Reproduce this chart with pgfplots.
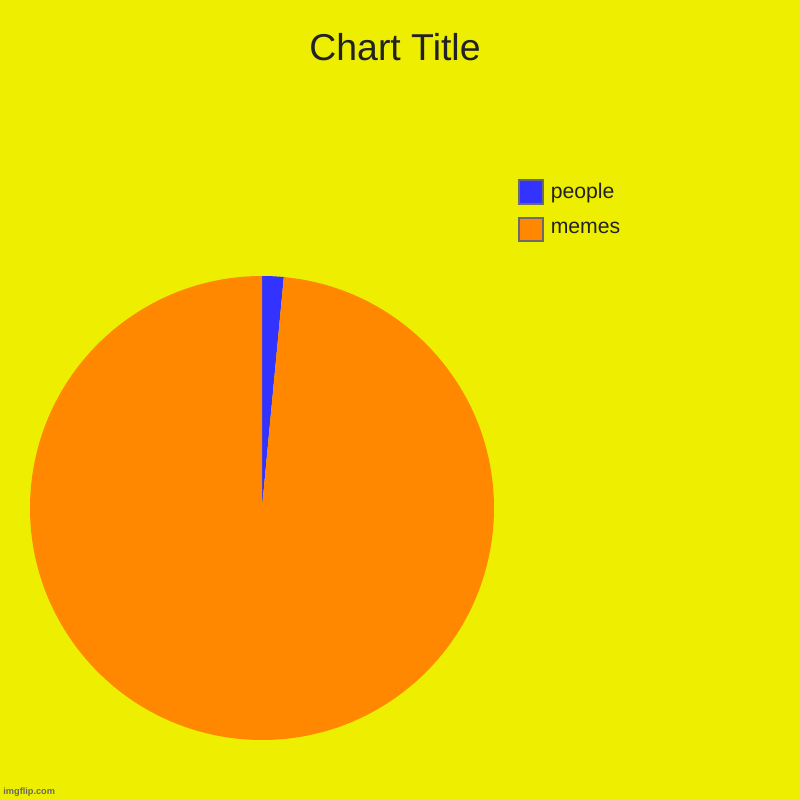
\documentclass[border=0pt]{standalone}
\usepackage{fontspec}
\setmainfont{Liberation Sans}
\usepackage{pgfplots}
\pgfplotsset{compat=1.18}

\definecolor{bgyellow}{HTML}{EEEE00}
\definecolor{pplblue}{HTML}{3333FF}
\definecolor{memorange}{HTML}{FF8800}
\definecolor{titlegray}{HTML}{222222}
\definecolor{legborder}{HTML}{6B6B6B}

% pie shares in percent
\def\people{1.5}
\def\memes{98.5}

\begin{document}
\begin{tikzpicture}
% whole chart area, 1px = 0.5pt
\fill[bgyellow] (0,0) rectangle (400pt,400pt);
\useasboundingbox (0,0) rectangle (400pt,400pt);
\begin{axis}[
    at={(0,0)}, anchor=origin,
    scale only axis, width=400pt, height=400pt,
    xmin=0, xmax=800, ymin=0, ymax=800,
    hide axis, clip=false,
    legend style={at={(axis cs:518,621)}, anchor=north west,
        draw=none, fill=none, inner sep=0pt,
        font=\fontsize{10.6pt}{12pt}\selectfont, text=titlegray,
        row sep=6pt,
        nodes={inner sep=1.5pt}},
    legend cell align=left,
    legend image code/.code={
        \draw[#1, draw=legborder, line width=1pt] (0pt,-5.8pt) rectangle (11.8pt,5.8pt);
        \path (14pt,0pt);},
]
\addlegendimage{fill=pplblue}
\addlegendentry{people}
\addlegendimage{fill=memorange}
\addlegendentry{memes}

% slices, clockwise from 12 o'clock
\pgfmathsetmacro{\aA}{90-3.6*\people}
\fill[pplblue] (axis cs:262,292) -- ++(90:116pt) arc[start angle=90, end angle=\aA, radius=116pt] -- cycle;
\fill[memorange] (axis cs:262,292) -- ++(\aA:116pt) arc[start angle=\aA, end angle=-270, radius=116pt] -- cycle;

\node[text=titlegray, font=\fontsize{18.7pt}{22pt}\selectfont] at (axis cs:395,753) {Chart Title};
% watermark
\node[anchor=west, inner sep=0pt, text=black!60, font=\bfseries\fontsize{4.6pt}{5pt}\selectfont] at (axis cs:3,8) {imgflip.com};
\end{axis}
\end{tikzpicture}
\end{document}
